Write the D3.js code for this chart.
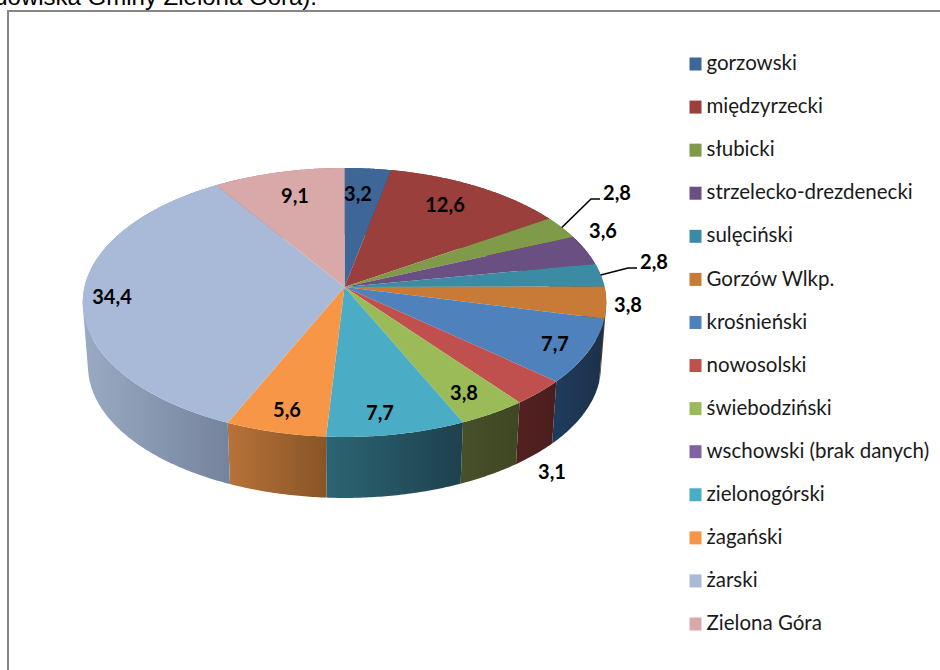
<!DOCTYPE html>
<html>
<head>
<meta charset="utf-8">
<script src="https://d3js.org/d3.v7.min.js"></script>
<style>
    html, body { margin: 0; padding: 0; background: #fff; overflow: hidden; }
    svg { display: block; }
</style>
</head>
<body>
<div id="chart"></div>
<script>
// data
const categories = ["gorzowski", "międzyrzecki", "słubicki", "strzelecko-drezdenecki", "sulęciński",
    "Gorzów Wlkp.", "krośnieński", "nowosolski", "świebodziński", "wschowski (brak danych)",
    "zielonogórski", "żagański", "żarski", "Zielona Góra"];
const values = [3.2, 12.6, 2.8, 3.6, 2.8, 3.8, 7.7, 3.1, 3.8, 0, 7.7, 5.6, 34.4, 9.1];
const valueLabels = ["3,2", "12,6", "2,8", "3,6", "2,8", "3,8", "7,7", "3,1", "3,8", "", "7,7", "5,6", "34,4", "9,1"];

const topColors = ["#3e6797", "#9a3f3c", "#7f9a48", "#6a4f83", "#3a8ba3", "#c87b36", "#4f81bd",
    "#c0504d", "#9bbb59", "#8064a2", "#4bacc6", "#f79646", "#a9b9d8", "#d9a9a9"];
const wallLeft = ["#2d4a6d", "#6e2d2b", "#5b6e33", "#4b385d", "#296375", "#6a4420", "#1f3b5c",
    "#52201f", "#47502a", "#4b385d", "#2c6574", "#b87239", "#9aaac3", "#9a7878"];
const wallRight = ["#2d4a6d", "#6e2d2b", "#5b6e33", "#4b385d", "#296375", "#5a3a1c", "#1c3149",
    "#4a1e1e", "#3f4722", "#4b385d", "#1e414d", "#885527", "#75849c", "#9a7878"];

// hand placed labels, as in the original chart
const labelSpots = [[358, 194], [445, 205], [617, 193], [603, 231], [654, 262], [628, 305], [555, 344],
    [552, 472], [464, 393], null, [380, 413], [287, 410], [112, 297], [295, 196]];
const leaderIndex = [2, 4];

const width = 940, height = 670;

// pie geometry: a slightly perspective disc
const cx = 344.5, cy = 287;
const radiusX = 260, radiusY = 132.7, tilt = 0.115;
const wallDrop = 64, wallShrink = 0.98;

function project(angle, r = 1, bottom = false) {
    let u = Math.sin(angle) * r;
    let v = -Math.cos(angle) * r;
    let k = bottom ? wallShrink : 1;
    let x = radiusX * u / (1 - tilt * v) * k;
    let y = radiusY * v / (1 - tilt * v) * k;
    return [cx + x, cy + y + (bottom ? wallDrop : 0)];
}

function rimPoints(d, bottom) {
    let n = Math.max(2, Math.ceil((d.endAngle - d.startAngle) / 0.01));
    return d3.range(n + 1).map(i => project(d.startAngle + (d.endAngle - d.startAngle) * i / n, 1, bottom));
}

// the wall as many small quads, so the tangent strip at the disc's sides gets filled too.
// all quads turn the same way, otherwise overlapping ones cancel out under nonzero fill
function wallPath(d) {
    let upper = rimPoints(d, false);
    let lower = rimPoints(d, true);
    return d3.pairs(d3.range(upper.length))
        .map(([a, b]) => {
            let quad = [upper[a], upper[b], lower[b], lower[a]];
            if (d3.polygonArea(quad) < 0) quad.reverse();
            return line(quad) + "Z";
        })
        .join("");
}

const svg = d3.select("#chart").append("svg")
    .attr("width", width)
    .attr("height", height);

// line of the document text above the chart, cut by the picture edge
svg.append("text")
    .attr("x", 317)
    .attr("y", 5)
    .attr("text-anchor", "end")
    .style("font-family", "'Liberation Sans', Arial, sans-serif")
    .style("font-size", "24px")
    .style("fill", "#000")
    .text("składowiska Gminy Zielona Góra).");

// chart frame
svg.append("rect")
    .attr("x", 8)
    .attr("y", 11)
    .attr("width", 1000)
    .attr("height", 800)
    .attr("fill", "#fff")
    .attr("stroke", "#868686")
    .attr("stroke-width", 2);

const pie = d3.pie().sort(null).value(d => d)(values);
const line = d3.line();
const defs = svg.append("defs");

pie.forEach((d, i) => {
    let xs = rimPoints(d, false).map(p => p[0]);
    let grad = defs.append("linearGradient")
        .attr("id", "wall" + i)
        .attr("gradientUnits", "userSpaceOnUse")
        .attr("x1", d3.min(xs)).attr("x2", d3.max(xs) + 0.01)
        .attr("y1", 0).attr("y2", 0);
    grad.append("stop").attr("offset", 0).attr("stop-color", wallLeft[i]);
    grad.append("stop").attr("offset", 1).attr("stop-color", wallRight[i]);
});

// side walls first, the tops cover their back parts
svg.append("g").selectAll("path")
    .data(pie.filter(d => d.value > 0))
    .enter().append("path")
    .attr("d", wallPath)
    .attr("fill", d => "url(#wall" + d.index + ")");

svg.append("g").selectAll("path")
    .data(pie.filter(d => d.value > 0))
    .enter().append("path")
    .attr("d", d => line([[cx, cy]].concat(rimPoints(d, false))) + "Z")
    .attr("fill", d => topColors[d.index]);

// leader lines for the two small slices
svg.append("g").selectAll("path")
    .data(leaderIndex)
    .enter().append("path")
    .attr("d", i => {
        let d = pie[i];
        let start = project((d.startAngle + d.endAngle) / 2, 1);
        let spot = labelSpots[i];
        let endX = spot[0] - 17;
        return line([start, [endX - 9, spot[1] + 6], [endX, spot[1] + 6]]);
    })
    .attr("fill", "none")
    .attr("stroke", "#000")
    .attr("stroke-width", 1.6);

svg.append("g").selectAll("text")
    .data(pie.filter(d => labelSpots[d.index]))
    .enter().append("text")
    .attr("x", d => labelSpots[d.index][0])
    .attr("y", d => labelSpots[d.index][1])
    .attr("dy", "0.35em")
    .attr("text-anchor", "middle")
    .style("font-family", "Lato, 'Open Sans', sans-serif")
    .style("font-weight", "700")
    .style("font-size", "20px")
    .style("fill", "#000")
    .text(d => valueLabels[d.index]);

// legend
const legendY = d3.scalePoint().domain(categories).range([64, 624]);

const legend = svg.append("g").selectAll("g")
    .data(categories)
    .enter().append("g")
    .attr("transform", d => "translate(0," + legendY(d) + ")");

legend.append("rect")
    .attr("x", 689.5)
    .attr("y", -6.5)
    .attr("width", 12)
    .attr("height", 13)
    .attr("fill", (d, i) => topColors[i]);

legend.append("text")
    .attr("x", 706.5)
    .attr("dy", "0.3em")
    .style("font-family", "Lato, 'Open Sans', sans-serif")
    .style("font-size", "20.5px")
    .style("fill", "#1a1a1a")
    .text(d => d);
</script>
</body>
</html>
